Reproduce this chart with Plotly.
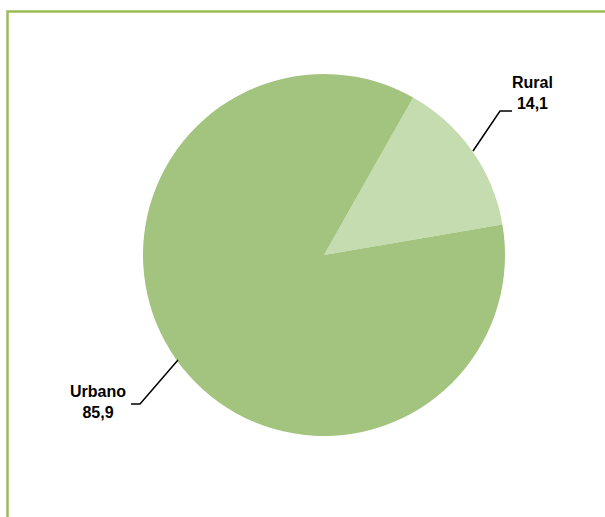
import plotly.graph_objects as go

# Data
labels = ["Rural", "Urbano"]
values = [14.1, 85.9]
colors = ["#C4DCB0", "#A2C47F"]

W, H = 605, 517

def px(x):
    return x / W

def py(y):
    return 1 - y / H

fig = go.Figure()
fig.add_trace(go.Pie(
    labels=labels, values=values, sort=False, direction="clockwise",
    rotation=29.5, marker=dict(colors=colors, line=dict(width=0)),
    textinfo="none", hoverinfo="label+value", showlegend=False,
    domain=dict(x=[px(324 - 181), px(324 + 181)], y=[py(255 + 181), py(255 - 181)]),
))

# labels with leader lines
lab_font = dict(family="Liberation Sans, Arial", size=16, color="#000000")
fig.add_annotation(x=px(532), y=py(93), xref="paper", yref="paper",
                   xanchor="center", yanchor="middle",
                   text="<b>%s<br>%s</b>" % (labels[0], str(values[0]).replace(".", ",")),
                   showarrow=False, font=lab_font, align="center")
fig.add_annotation(x=px(98), y=py(402), xref="paper", yref="paper",
                   xanchor="center", yanchor="middle",
                   text="<b>%s<br>%s</b>" % (labels[1], str(values[1]).replace(".", ",")),
                   showarrow=False, font=lab_font, align="center")

line = dict(color="#000000", width=1.5)
fig.add_shape(type="path", xref="paper", yref="paper", line=line,
              path="M %f %f L %f %f L %f %f" % (px(473), py(151), px(500), py(111), px(512), py(111)))
fig.add_shape(type="path", xref="paper", yref="paper", line=line,
              path="M %f %f L %f %f L %f %f" % (px(178), py(360), px(140), py(404), px(131), py(404)))

# green frame
fig.add_shape(type="rect", xref="paper", yref="paper",
              x0=px(7.5), x1=px(W + 10), y0=py(H + 10), y1=py(11.5),
              line=dict(color="#9BBB59", width=2.5))

fig.update_layout(width=W, height=H, margin=dict(l=0, r=0, t=0, b=0),
                  paper_bgcolor="white", plot_bgcolor="white")

fig.write_html("out.html", config={"displayModeBar": False},
               post_script="document.body.style.margin='0';")
